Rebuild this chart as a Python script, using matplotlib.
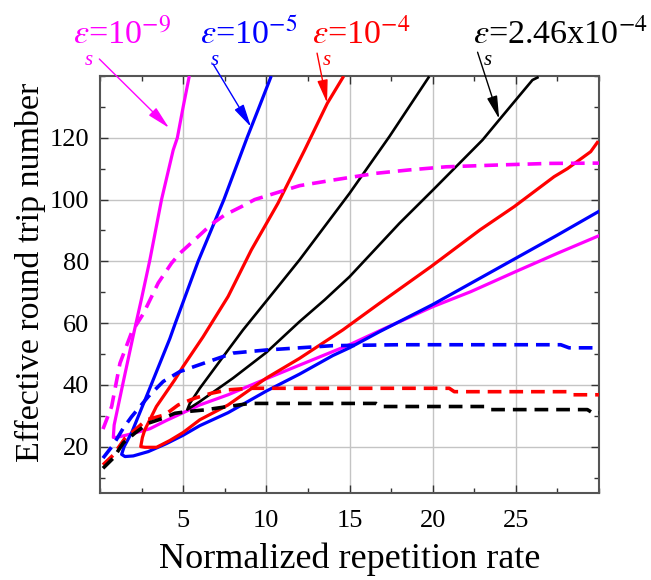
import numpy as np
import matplotlib
matplotlib.use('Agg')
import matplotlib.pyplot as plt
from matplotlib.ticker import MultipleLocator

plt.rcParams['font.family'] = ['Liberation Serif', 'DejaVu Serif']
plt.rcParams['mathtext.fontset'] = 'stix'

#
# data (x = normalized rep. rate, y = round trips)
#
# eps_s = 1e-9 (magenta)
mag_up_x = [0.8, 0.85, 1.4, 2.0, 2.5, 3.0, 3.7, 4.4, 4.65, 5.0, 5.35]
mag_up_y = [23, 27, 41, 56, 68, 80.5, 100, 116, 120, 130, 139.5]
mag_lo_x = [0.8, 1.0, 1.4, 2.0, 3.0, 4.0, 5.0, 6.0, 7.7, 10, 12.5, 15, 17, 20, 22.3, 25, 27.5, 30]
mag_lo_y = [23, 23, 23.5, 24.3, 25.8, 28.5, 31, 33.5, 36.8, 42, 47.5, 53, 58, 65.3, 70.2, 76.7, 82.6, 88.3]
mag_d_x = [0.18, 0.7, 1.2, 1.9, 2.6, 3.5, 4.3, 4.8, 5.9, 6.7, 7.5, 8.5, 9.3, 10.5, 12, 14, 16.6, 18.6, 20.8, 24, 27, 30]
mag_d_y = [25.7, 33, 47, 57, 63, 73, 79.4, 82.6, 88, 92, 95, 97.7, 100, 102, 104.5, 106.3, 108.5, 109.6, 110.6, 111.2, 111.7, 111.8]

# eps_s = 1e-5 (blue)
blu_up_x = [1.3, 1.45, 1.9, 3.0, 4.2, 4.53, 5.9, 7.45, 8.84, 9.5, 10.26]
blu_up_y = [17.5, 20, 24.5, 39, 55, 60, 80, 100, 120, 129, 139.5]
blu_lo_x = [1.3, 1.5, 2.0, 2.9, 4.0, 5.0, 6.0, 7.7, 10, 12, 14, 15, 16.8, 20, 22, 25, 27.5, 30]
blu_lo_y = [17.4, 16.8, 17.0, 18.4, 21, 23.7, 26.8, 31, 38, 43.5, 49.5, 52, 57.2, 66, 72, 81, 88.5, 96.2]
blu_d_x = [0.18, 0.8, 1.4, 1.9, 2.9, 3.8, 4.8, 5.7, 6.5, 8, 10, 14, 18, 27.7, 28.2, 30]
blu_d_y = [16.3, 20.6, 26, 29.7, 36.2, 41.1, 44.3, 46, 47.5, 50.3, 51.3, 52.7, 53, 53, 52, 52]

# eps_s = 1e-4 (red)
red_up_x = [2.45, 2.55, 2.69, 3.39, 4.49, 5.0, 6.19, 7.7, 9.1, 10.7, 12.3, 13.67, 14.6]
red_up_y = [20, 23, 25.4, 33, 41.6, 46, 55.5, 68.6, 83.7, 98.8, 116, 131.2, 139.5]
red_lo_x = [2.45, 2.7, 3.4, 4.2, 5.0, 6.0, 7.7, 10, 12, 14.6, 16.8, 19.9, 22.85, 24.9, 27.3, 28.1, 29.5, 29.9]
red_lo_y = [20, 19.8, 19.8, 22, 24.6, 28.7, 33.5, 42.2, 48.6, 57.8, 66.4, 78.3, 90.2, 97.7, 107.4, 110, 115.5, 118.5]
red_d_x = [0.18, 0.8, 1.5, 2.1, 2.8, 3.9, 4.7, 5.7, 6.7, 7.7, 9, 21, 21.3, 28.1, 28.4, 30]
red_d_y = [14.1, 17.3, 22.7, 25.4, 28.7, 30.3, 33.5, 35.7, 37.3, 38.4, 38.9, 38.9, 37.8, 37.8, 36.8, 36.8]

# eps_s = 2.46e-4 (black)
blk_up_x = [5.25, 5.4, 6.0, 7.7, 8.6, 10.7, 12.0, 15.0, 17.4, 19.75]
blk_up_y = [32, 34, 38.9, 51.3, 57.8, 71.8, 80.5, 102, 120.4, 139.5]
blk_lo_x = [5.25, 6.0, 8.0, 10.0, 12.0, 13.5, 15.0, 18.0, 20.0, 23.0, 24.0, 24.65, 26.0, 26.3]
blk_lo_y = [32, 34.6, 42.2, 50.5, 60.5, 67.5, 75, 92.3, 103, 119.3, 125.8, 130, 138.7, 139.5]
blk_d_x = [0.18, 0.8, 1.4, 2.1, 2.9, 3.8, 4.5, 5.3, 6.3, 7.7, 9, 16.6, 16.9, 23.1, 23.4, 29.3, 29.6, 30]
blk_d_y = [13, 16.3, 21.2, 24.4, 27.6, 29.2, 30.8, 31.4, 31.9, 33, 34, 34, 33, 33, 32, 32, 31, 31]

labels = [r'$\varepsilon$=10$^{-9}$', r'$\varepsilon$=10$^{-5}$',
          r'$\varepsilon$=10$^{-4}$', r'$\varepsilon$=2.46x10$^{-4}$']
colors = ['#ff00ff', '#0000ff', '#ff0000', '#000000']


def vcurve(ux, uy, lx, ly):
    # join steep branch (reversed) and shallow branch at the vertex
    return list(ux[::-1]) + list(lx[1:]), list(uy[::-1]) + list(ly[1:])


fig = plt.figure(figsize=(6.51, 5.80), dpi=100)
ax = fig.add_axes([100/651, 1-493/580, 499/651, 417/580])

solids = [(mag_up_x, mag_up_y, mag_lo_x, mag_lo_y),
          (blu_up_x, blu_up_y, blu_lo_x, blu_lo_y),
          (red_up_x, red_up_y, red_lo_x, red_lo_y),
          (blk_up_x, blk_up_y, blk_lo_x, blk_lo_y)]
dashed = [(mag_d_x, mag_d_y), (blu_d_x, blu_d_y), (red_d_x, red_d_y), (blk_d_x, blk_d_y)]

for (ux, uy, lx, ly), c in zip(solids, colors):
    xx, yy = vcurve(ux, uy, lx, ly)
    lw = 1.9 if c == '#000000' else 2.3
    ax.plot(xx, yy, color=c, lw=lw, solid_joinstyle='round', zorder=3)

for (dx, dy), c in zip(dashed, colors):
    ax.plot(dx, dy, color=c, lw=2.6, dashes=(3.8, 2.2), zorder=3)

ax.set_xlim(0, 30)
ax.set_ylim(5, 140)
ax.xaxis.set_minor_locator(MultipleLocator(2.5))
ax.yaxis.set_minor_locator(MultipleLocator(10))
ax.set_xticks([5, 10, 15, 20, 25])
ax.set_yticks([20, 40, 60, 80, 100, 120])
ax.grid(True, which='major', color='#c4c4c4', lw=1.0, zorder=0)
ax.tick_params(which='both', direction='in', top=True, right=True,
               labelsize=19, color='#333333', width=1.0)
ax.tick_params(which='major', length=6)
ax.tick_params(which='minor', length=3.5)
ax.tick_params(axis='x', pad=12)
ax.tick_params(axis='y', pad=8)
for lbl in ax.get_xticklabels() + ax.get_yticklabels():
    lbl.set_fontfamily('Liberation Serif')
for sp in ax.spines.values():
    sp.set_color('#555555')
    sp.set_linewidth(1.5)

ax.set_xlabel('Normalized repetition rate', fontsize=26, labelpad=8)
ax.set_ylabel('Effective round trip number', fontsize=24.5, labelpad=2)
ax.yaxis.label.set_y(0.53)

# labels on top with arrows
text_px = [(73, 44), (200, 44), (312, 44), (473, 44)]
sub_px = [(85, 65), (211, 65), (323, 65), (484, 65)]
arr_from = [(-0.04, 145.5), (6.8, 143.9), (13.05, 147.4), (22.7, 147.7)]
arr_to = [(4.15, 123.2), (9.08, 123.5), (13.65, 131.3), (24.0, 126.1)]
for lab, c, (tx, ty), (sx, sy), p0, p1 in zip(labels, colors, text_px, sub_px, arr_from, arr_to):
    fig.text(tx/651, 1-ty/580, lab, color=c, fontsize=24.5, va='baseline')
    fig.text(sx/651, 1-sy/580, 's', color=c, fontsize=15, style='italic', va='baseline')
    ax.annotate('', xy=p1, xytext=p0, annotation_clip=False,
                arrowprops=dict(arrowstyle='-|>,head_length=1.4,head_width=0.32',
                                color=c, lw=1.0, shrinkA=0, shrinkB=0))

fig.savefig('out.png', dpi=100)
